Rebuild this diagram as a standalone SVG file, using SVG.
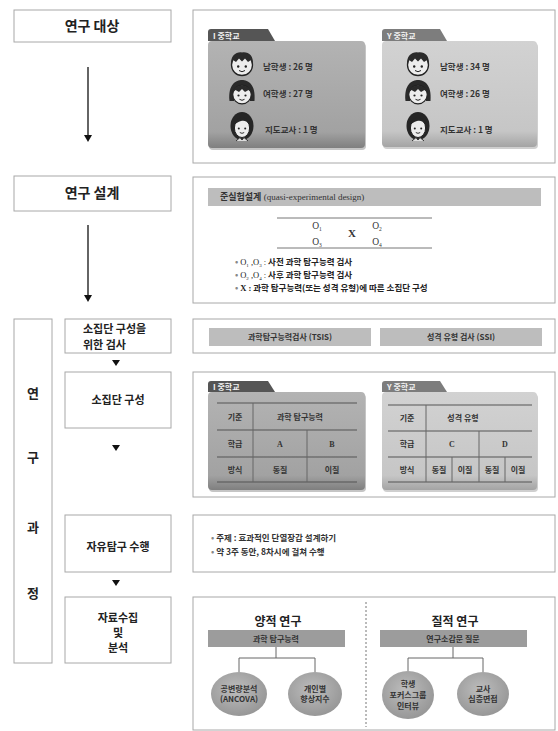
<svg xmlns="http://www.w3.org/2000/svg" width="558" height="731" viewBox="0 0 558 731">
  <style>
    .box { fill: #ffffff; stroke: #a8a8a8; stroke-width: 1; }
    .ko { font-family: "Noto Sans CJK KR", "Noto Sans", sans-serif; fill: #222; }
    .b { font-weight: bold; }
    .title { font-size: 14px; font-weight: bold; text-anchor: middle; }
    .step { font-size: 11px; font-weight: bold; }
    .vlab { font-size: 13px; font-weight: bold; text-anchor: middle; }
    .info { font-size: 8.5px; font-weight: bold; fill: #333; }
    .tab { font-size: 8px; font-weight: bold; fill: #f2f2f2; }
    .cell { font-size: 8px; font-weight: bold; text-anchor: middle; fill: #333; }
    .tline { stroke: #555; stroke-width: 1.2; }
    .tcol { stroke: #666; stroke-width: 1; }
    .bar { fill: #bdbdbd; }
    .dbar { fill: #9c9c9c; }
    .serif { font-family: "Liberation Serif", "Noto Sans CJK KR", serif; }
    .link { stroke: #666; stroke-width: 1; fill: none; }
    .arrow { stroke: #111; stroke-width: 1.3; }
    .head { fill: #111; }
  </style>
  <defs>
    <linearGradient id="gDark" x1="0" y1="0" x2="0" y2="1">
      <stop offset="0" stop-color="#b3b3b3"/>
      <stop offset="0.85" stop-color="#a2a2a2"/>
      <stop offset="1" stop-color="#7f7f7f"/>
    </linearGradient>
    <linearGradient id="gLight" x1="0" y1="0" x2="0" y2="1">
      <stop offset="0" stop-color="#d2d2d2"/>
      <stop offset="0.85" stop-color="#c6c6c6"/>
      <stop offset="1" stop-color="#a4a4a4"/>
    </linearGradient>
    <radialGradient id="gOval" cx="0.45" cy="0.4" r="0.65">
      <stop offset="0" stop-color="#bdbdbd"/>
      <stop offset="1" stop-color="#949494"/>
    </radialGradient>
    <!-- cartoon faces -->
    <g id="boy">
      <circle r="10.5" fill="#ededed" stroke="#222" stroke-width="1.3"/>
      <path d="M-10.8,0 C-12,-10 -5,-13.5 0,-12.5 C6,-13.5 12,-10 10.8,0 L9,-5 L6,-3 L3,-6.5 L0,-3.5 L-3,-6.5 L-6,-3 L-9,-5 Z" fill="#2a2a2a"/>
      <circle cx="-3.8" cy="1.5" r="1.2" fill="#222"/>
      <circle cx="3.8" cy="1.5" r="1.2" fill="#222"/>
      <path d="M-3,5.5 Q0,8 3,5.5" stroke="#222" stroke-width="1" fill="none"/>
    </g>
    <g id="girl">
      <path d="M-12.5,8 C-14,-9 -6,-13 0,-13 C6,-13 14,-9 12.5,8 L8,8 L8,2 L-8,2 L-8,8 Z" fill="#2a2a2a"/>
      <circle cy="1.5" r="9.3" fill="#ededed" stroke="#222" stroke-width="1.2"/>
      <path d="M-9.5,0 C-9,-10 9,-10 9.5,0 L6.5,-3 L3,-1 L0,-4 L-3,-1 L-6.5,-3 Z" fill="#2a2a2a"/>
      <circle cx="-3.5" cy="2.5" r="1.1" fill="#222"/>
      <circle cx="3.5" cy="2.5" r="1.1" fill="#222"/>
      <path d="M-2.5,6.3 Q0,8.3 2.5,6.3" stroke="#222" stroke-width="1" fill="none"/>
    </g>
    <g id="teacher">
      <ellipse cy="-1" rx="11.5" ry="14" fill="#262626"/>
      <ellipse cy="1" rx="7.6" ry="9.5" fill="#ededed" stroke="#222" stroke-width="1"/>
      <path d="M-8,-2 C-7,-12 7,-12 8,-2 C5,-6 2,-7 -1,-6 C-4,-5 -6,-4 -8,-2 Z" fill="#262626"/>
      <circle cx="-3.2" cy="1.5" r="1" fill="#222"/>
      <circle cx="3.2" cy="1.5" r="1" fill="#222"/>
      <path d="M-2.2,5.5 Q0,7.2 2.2,5.5" stroke="#222" stroke-width="0.9" fill="none"/>
      <path d="M-6,14 L-2,10.5 L0,13 L2,10.5 L6,14" stroke="#333" stroke-width="1" fill="#dcdcdc"/>
    </g>
  </defs>

  <rect width="558" height="731" fill="#ffffff"/>

  <!-- left column: stage boxes -->
  <g id="n-target">
    <rect class="box" x="14" y="10" width="157" height="32"/>
    <text class="ko title" x="92" y="31">연구 대상</text>
  </g>
  <g id="n-design">
    <rect class="box" x="14" y="176" width="157" height="35"/>
    <text class="ko title" x="92" y="198">연구 설계</text>
  </g>
  <g id="n-process">
    <rect class="box" x="14" y="319" width="38" height="344"/>
    <text class="ko vlab" x="33" y="398">연</text>
    <text class="ko vlab" x="33" y="462">구</text>
    <text class="ko vlab" x="33" y="532">과</text>
    <text class="ko vlab" x="33" y="598">정</text>
  </g>
  <g id="n-test">
    <rect class="box" x="65" y="319" width="106" height="34"/>
    <text class="ko step" x="83" y="333" font-size="10">소집단 구성을</text>
    <text class="ko step" x="83" y="348.5" font-size="10">위한 검사</text>
  </g>
  <g id="n-group">
    <rect class="box" x="65" y="372" width="106" height="56"/>
    <text class="ko step" x="118" y="404" text-anchor="middle">소집단 구성</text>
  </g>
  <g id="n-inquiry">
    <rect class="box" x="65" y="515" width="106" height="57"/>
    <text class="ko step" x="118" y="551" text-anchor="middle">자유탐구 수행</text>
  </g>
  <g id="n-analysis">
    <rect class="box" x="65" y="597" width="106" height="66"/>
    <text class="ko step" x="118" y="622" text-anchor="middle">자료수집</text>
    <text class="ko step" x="118" y="637" text-anchor="middle">및</text>
    <text class="ko step" x="118" y="652" text-anchor="middle">분석</text>
  </g>

  <!-- right column: detail panels -->
  <g id="p-target">
    <rect class="box" x="193" y="10" width="362" height="153"/>
    <!-- I school folder -->
    <rect x="209" y="43" width="157" height="107" rx="4" fill="#8c8c8c" opacity="0.5"/>
    <path d="M208,41 L208,32 Q208,29 211,29 L268,29 L275,41 Z" fill="#555"/>
    <rect x="208" y="41" width="157" height="107" rx="4" fill="url(#gDark)"/>
    <text class="ko tab" x="213" y="38.5">I 중학교</text>
    <use href="#boy" x="242" y="65"/>
    <use href="#girl" x="242" y="93"/>
    <use href="#teacher" x="242" y="127"/>
    <text class="ko info" x="263" y="70">남학생 : 26 명</text>
    <text class="ko info" x="263" y="97">여학생 : 27 명</text>
    <text class="ko info" x="265" y="133">지도교사 : 1 명</text>
    <!-- Y school folder -->
    <rect x="383" y="43" width="155" height="106" rx="4" fill="#a0a0a0" opacity="0.5"/>
    <path d="M382,41 L382,32 Q382,29 385,29 L440,29 L447,41 Z" fill="#7d7d7d"/>
    <rect x="382" y="41" width="155" height="106" rx="4" fill="url(#gLight)"/>
    <text class="ko tab" x="387" y="38.5">Y 중학교</text>
    <use href="#boy" x="418" y="65"/>
    <use href="#girl" x="418" y="93"/>
    <use href="#teacher" x="418" y="127"/>
    <text class="ko info" x="440" y="70">남학생 : 34 명</text>
    <text class="ko info" x="440" y="97">여학생 : 26 명</text>
    <text class="ko info" x="440" y="133">지도교사 : 1 명</text>
  </g>

  <g id="p-design">
    <rect class="box" x="193" y="177" width="362" height="126"/>
    <rect class="bar" x="208" y="188" width="333" height="18"/>
    <text class="serif" x="220" y="200" font-size="9" fill="#333"><tspan class="b" font-family="Noto Sans CJK KR, sans-serif">준실험설계</tspan> (quasi-experimental design)</text>
    <line x1="277" y1="218" x2="432" y2="218" stroke="#777" stroke-width="1"/>
    <line x1="277" y1="248" x2="432" y2="248" stroke="#777" stroke-width="1"/>
    <g class="serif" font-size="9.5" fill="#333" text-anchor="middle">
      <text x="317" y="229">O<tspan font-size="5.5" dy="2">1</tspan></text>
      <text x="317" y="245">O<tspan font-size="5.5" dy="2">3</tspan></text>
      <text x="377" y="229">O<tspan font-size="5.5" dy="2">2</tspan></text>
      <text x="377" y="245">O<tspan font-size="5.5" dy="2">4</tspan></text>
      <text x="352" y="237" font-size="11" font-weight="bold">X</text>
    </g>
    <g class="ko" font-size="8.5" font-weight="bold" fill="#333">
      <text x="235" y="265"><tspan fill="#888">•</tspan> <tspan class="serif" font-weight="normal">O<tspan font-size="5" dy="1.5">1</tspan><tspan dy="-1.5"> ,O</tspan><tspan font-size="5" dy="1.5">3</tspan><tspan dy="-1.5"> :</tspan></tspan> 사전 과학 탐구능력 검사</text>
      <text x="235" y="278"><tspan fill="#888">•</tspan> <tspan class="serif" font-weight="normal">O<tspan font-size="5" dy="1.5">2</tspan><tspan dy="-1.5"> ,O</tspan><tspan font-size="5" dy="1.5">4</tspan><tspan dy="-1.5"> :</tspan></tspan> 사후 과학 탐구능력 검사</text>
      <text x="235" y="291"><tspan fill="#888">•</tspan> <tspan class="serif">X :</tspan> 과학 탐구능력(또는 성격 유형)에 따른 소집단 구성</text>
    </g>
  </g>

  <g id="p-test">
    <rect class="box" x="193" y="319" width="362" height="34"/>
    <rect class="bar" x="209" y="328" width="162" height="18"/>
    <rect class="bar" x="380" y="328" width="162" height="18"/>
    <text class="ko cell" x="290" y="340">과학탐구능력검사 (TSIS)</text>
    <text class="ko cell" x="461" y="340">성격 유형 검사 (SSI)</text>
  </g>

  <g id="p-group">
    <rect class="box" x="193" y="372" width="362" height="125"/>
    <!-- I school grouping table -->
    <rect x="209" y="394" width="157" height="98" rx="4" fill="#8c8c8c" opacity="0.5"/>
    <path d="M208,392 L208,384 Q208,381 211,381 L268,381 L275,392 Z" fill="#555"/>
    <rect x="208" y="392" width="157" height="98" rx="4" fill="url(#gDark)"/>
    <text class="ko tab" x="213" y="390">I 중학교</text>
    <line class="tline" x1="217" y1="403" x2="357" y2="403"/>
    <line class="tline" x1="217" y1="430" x2="357" y2="430"/>
    <line class="tline" x1="217" y1="457" x2="357" y2="457"/>
    <line class="tline" x1="217" y1="482" x2="357" y2="482"/>
    <line class="tcol" x1="253" y1="403" x2="253" y2="482"/>
    <line class="tcol" x1="307" y1="430" x2="307" y2="482"/>
    <g class="ko">
      <text class="cell" x="235" y="420">기준</text>
      <text class="cell" x="235" y="447">학급</text>
      <text class="cell" x="235" y="473">방식</text>
      <text class="cell" x="300" y="420">과학 탐구능력</text>
      <text class="cell serif" x="280" y="447">A</text>
      <text class="cell serif" x="332" y="447">B</text>
      <text class="cell" x="280" y="473">동질</text>
      <text class="cell" x="332" y="473">이질</text>
    </g>
    <!-- Y school grouping table -->
    <rect x="383" y="394" width="155" height="98" rx="4" fill="#a0a0a0" opacity="0.5"/>
    <path d="M382,392 L382,384 Q382,381 385,381 L440,381 L447,392 Z" fill="#7d7d7d"/>
    <rect x="382" y="392" width="155" height="98" rx="4" fill="url(#gLight)"/>
    <text class="ko tab" x="387" y="390">Y 중학교</text>
    <line class="tline" x1="388" y1="405" x2="532" y2="405"/>
    <line class="tline" x1="388" y1="431" x2="532" y2="431"/>
    <line class="tline" x1="388" y1="457" x2="532" y2="457"/>
    <line class="tline" x1="388" y1="482" x2="532" y2="482"/>
    <line class="tcol" x1="426" y1="405" x2="426" y2="482"/>
    <line class="tcol" x1="479" y1="431" x2="479" y2="482"/>
    <line class="tcol" x1="452" y1="457" x2="452" y2="482"/>
    <line class="tcol" x1="505" y1="457" x2="505" y2="482"/>
    <g class="ko">
      <text class="cell" x="407" y="421">기준</text>
      <text class="cell" x="407" y="447">학급</text>
      <text class="cell" x="407" y="473">방식</text>
      <text class="cell" x="463" y="421">성격 유형</text>
      <text class="cell serif" x="452" y="447">C</text>
      <text class="cell serif" x="505" y="447">D</text>
      <text class="cell" x="439" y="473">동질</text>
      <text class="cell" x="465" y="473">이질</text>
      <text class="cell" x="492" y="473">동질</text>
      <text class="cell" x="518" y="473">이질</text>
    </g>
  </g>

  <g id="p-inquiry">
    <rect class="box" x="193" y="515" width="362" height="57"/>
    <text class="ko info" x="211" y="541"><tspan fill="#888">•</tspan> 주제 : 효과적인 단열장갑 설계하기</text>
    <text class="ko info" x="211" y="555"><tspan fill="#888">•</tspan> 약 3주 동안, 8차시에 걸쳐 수행</text>
  </g>

  <g id="p-analysis">
    <rect class="box" x="193" y="597" width="362" height="133"/>
    <line x1="366" y1="602" x2="366" y2="727" stroke="#777" stroke-width="1" stroke-dasharray="2,2"/>
    <text class="ko" x="278" y="626" font-size="12" font-weight="bold" text-anchor="middle">양적 연구</text>
    <text class="ko" x="455" y="626" font-size="12" font-weight="bold" text-anchor="middle">질적 연구</text>
    <rect class="dbar" x="208" y="630" width="137" height="17"/>
    <rect class="dbar" x="380" y="630" width="147" height="17"/>
    <text class="ko cell" x="276" y="641.5">과학 탐구능력</text>
    <text class="ko cell" x="453" y="641.5">연구소감문 질문</text>
  </g>
  <g id="o-ancova">
    <ellipse cx="239" cy="694" rx="28" ry="22" fill="url(#gOval)"/>
    <text class="ko cell" x="239" y="692">공변량분석</text>
    <text class="ko cell" x="239" y="702">(ANCOVA)</text>
  </g>
  <g id="o-gain">
    <ellipse cx="315" cy="694" rx="27" ry="22" fill="url(#gOval)"/>
    <text class="ko cell" x="315" y="692">개인별</text>
    <text class="ko cell" x="315" y="702">향상지수</text>
  </g>
  <g id="o-focus">
    <ellipse cx="408" cy="695" rx="26" ry="24" fill="url(#gOval)"/>
    <text class="ko cell" x="408" y="687">학생</text>
    <text class="ko cell" x="408" y="698">포커스그룹</text>
    <text class="ko cell" x="408" y="709">인터뷰</text>
  </g>
  <g id="o-interview">
    <ellipse cx="483" cy="694" rx="26" ry="22" fill="url(#gOval)"/>
    <text class="ko cell" x="483" y="692">교사</text>
    <text class="ko cell" x="483" y="702">심층면접</text>
  </g>

  <!-- connectors -->
  <g id="connectors">
    <line class="arrow" x1="88" y1="67" x2="88" y2="136"/>
    <polygon class="head" points="84,135 92,135 88,142"/>
    <line class="arrow" x1="88" y1="225" x2="88" y2="296"/>
    <polygon class="head" points="84,295 92,295 88,302"/>
    <polygon class="head" points="112,360 120,360 116,366"/>
    <polygon class="head" points="112,445 120,445 116,451"/>
    <polygon class="head" points="112,580 120,580 116,586"/>
    <path class="link" d="M276,647 V658 M239,672 V658 H315 V672"/>
    <path class="link" d="M453,647 V658 M408,671 V658 H483 V672"/>
  </g>
</svg>
